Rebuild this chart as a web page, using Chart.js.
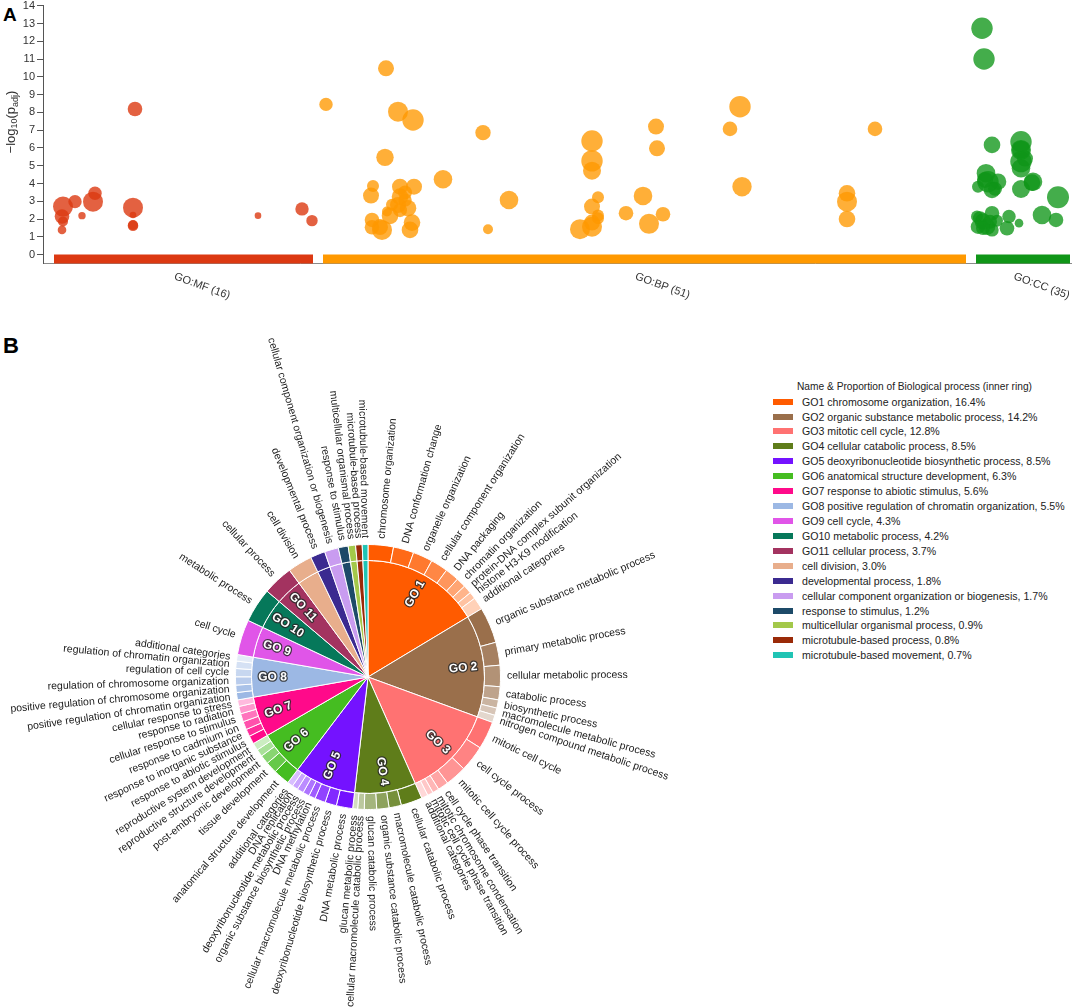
<!DOCTYPE html>
<html>
<head>
<meta charset="utf-8">
<script src="https://cdn.jsdelivr.net/npm/chart.js@4.4.1/dist/chart.umd.min.js"></script>
<style>
  html, body { margin: 0; padding: 0; background: #fff; }
  body { width: 1072px; height: 1007px; position: relative; overflow: hidden;
         font-family: "Liberation Sans", Arial, sans-serif; color: #222; }
  .tag { position: absolute; font-weight: bold; color: #000; }
  #manhattan { position: absolute; left: 0; top: 0; }
  #sunburst { position: absolute; left: 0; top: 300px; }
  #legend { position: absolute; left: 772px; top: 380px; }
  #legend .title { height: 14.2px; line-height: 14px; font-size: 10.2px; padding-left: 25px; white-space: nowrap; }
  #legend .row { height: 14.93px; display: flex; align-items: center; font-size: 10.6px; white-space: nowrap; }
  #legend .box { width: 20px; height: 6px; margin-left: 1px; margin-right: 9px; }
</style>
</head>
<body>
<div class="tag" style="left:3px; top:5px; font-size:19px; line-height:19px;">A</div>
<div class="tag" style="left:3px; top:335px; font-size:22px; line-height:22px;">B</div>
<canvas id="sunburst" width="760" height="707"></canvas>
<canvas id="manhattan" width="1072" height="310"></canvas>
<div id="legend"></div>

<script>
// ---------- panel A : g:Profiler style manhattan plot ----------
const SOURCE_NAMES = ['GO:MF', 'GO:BP', 'GO:CC'];
const SOURCE_COUNTS = [16, 51, 35];
const SOURCE_FROM = [11, 280, 933];
const SOURCE_TO = [270, 923, 1027];
const Y_TICKS = [0, 1, 2, 3, 4, 5, 6, 7, 8, 9, 10, 11, 12, 13, 14];

// term position on the x axis, -log10(padj), term size (bubble radius)
const MF_X = [20, 32, 19, 20, 19, 39, 52, 50, 92, 90, 90, 90, 90, 215, 259, 269];
const MF_Y = [2.7, 2.98, 2.14, 1.86, 1.39, 2.19, 3.45, 2.98, 8.19, 2.64, 2.23, 1.63, 1.66, 2.19, 2.57, 1.91];
const MF_R = [10, 6.7, 7.3, 5, 4.3, 3.7, 6.7, 10, 7.3, 10, 3.3, 5.3, 5, 3.3, 6.7, 5.7];

const BP_X = [283, 343, 355, 370, 342, 330, 328, 357, 371, 357, 355, 365, 344, 347, 329, 329, 339, 369, 367, 362,
  400, 440, 466, 445, 549, 549, 549, 555, 549, 555, 537, 549, 613, 614, 600, 583, 606, 620, 697, 687,
  699, 832, 804, 804, 804, 357, 349, 549, 362, 337, 555];
const BP_Y = [8.45, 10.48, 8.04, 7.57, 5.47, 3.86, 3.32, 3.82, 3.82, 3.26, 2.79, 2.61, 2.42, 2.18, 1.95, 1.54, 1.39, 1.80, 1.39, 3.07,
  4.24, 6.86, 3.07, 1.43, 6.39, 5.27, 4.72, 3.23, 2.70, 2.05, 1.43, 1.57, 7.2, 5.98, 3.3, 2.33, 1.73, 2.27, 8.32, 7.07,
  3.82, 7.07, 3.45, 2.98, 2.0, 2.5, 2.8, 1.8, 3.5, 1.55, 2.2];
const BP_R = [6.7, 8, 10, 10.7, 8.7, 6, 8, 8, 8, 8.3, 8, 8.3, 5, 8.3, 7.3, 7.3, 10, 8.3, 8.3, 6.7,
  9.3, 7.7, 9.3, 5, 10.7, 10.7, 9, 6, 8, 6, 10, 10, 8, 8, 9.3, 7.3, 10, 7.3, 10.7, 7.3,
  9.7, 7.3, 8.3, 10, 8.3, 7, 6, 8, 7, 8, 6];

const CC_X = [939, 941, 949, 978, 978, 978, 978, 943, 945, 955, 935, 949, 990, 989, 978, 1015, 934, 949, 940, 935,
  949, 966, 964, 976, 999, 1013, 944, 942, 952, 937, 947, 978, 982, 940, 954];
const CC_Y = [12.73, 11.0, 6.17, 6.35, 5.89, 5.23, 4.86, 4.58, 4.1, 4.1, 3.82, 3.64, 4.1, 4.05, 3.69, 3.23, 2.14, 2.33, 1.86, 1.57,
  1.39, 2.14, 1.48, 1.77, 2.23, 1.95, 1.57, 4.2, 3.7, 2.05, 1.85, 5.9, 5.4, 1.5, 1.9];
const CC_R = [10.7, 10.7, 8.3, 10.7, 10, 10.7, 9.3, 9.3, 10.7, 8.3, 6, 8.3, 9.3, 8.3, 9, 11, 6, 7.3, 8.3, 7.3,
  6.7, 6.7, 7.3, 4.3, 9.3, 7.3, 8.3, 8, 7, 7, 7, 9, 8, 7, 6];

// ---------- panel B : biological process sunburst ----------
const GROUP_NAMES = ['GO1 chromosome organization', 'GO2 organic substance metabolic process', 'GO3 mitotic cell cycle',
  'GO4 cellular catabolic process', 'GO5 deoxyribonucleotide biosynthetic process', 'GO6 anatomical structure development',
  'GO7 response to abiotic stimulus', 'GO8 positive regulation of chromatin organization', 'GO9 cell cycle',
  'GO10 metabolic process', 'GO11 cellular process', 'cell division', 'developmental process',
  'cellular component organization or biogenesis', 'response to stimulus', 'multicellular organismal process',
  'microtubule-based process', 'microtubule-based movement'];
const GROUP_SHARE = [16.4, 14.2, 12.8, 8.5, 8.5, 6.3, 5.6, 5.5, 4.3, 4.2, 3.7, 3.0, 1.8, 1.7, 1.2, 0.9, 0.8, 0.7];
const GROUP_TAGS = ['GO 1', 'GO 2', 'GO 3', 'GO 4', 'GO 5', 'GO 6', 'GO 7', 'GO 8', 'GO 9', 'GO 10', 'GO 11',
  '', '', '', '', '', '', ''];

const TERM_NAMES = [
  'chromosome organization', 'DNA conformation change', 'organelle organization', 'cellular component organization',
  'DNA packaging', 'chromatin organization', 'protein-DNA complex subunit organization', 'histone H3-K9 modification', 'additional categories',
  'organic substance metabolic process', 'primary metabolic process', 'cellular metabolic process', 'catabolic process',
  'biosynthetic process', 'macromolecule metabolic process', 'nitrogen compound metabolic process',
  'mitotic cell cycle', 'cell cycle process', 'mitotic cell cycle process', 'cell cycle phase transition',
  'mitotic chromosome condensation', 'mitotic cell cycle phase transition', 'additional categories',
  'cellular catabolic process', 'macromolecule catabolic process', 'organic substance catabolic process',
  'glucan catabolic process', 'cellular macromolecule catabolic process', 'glucan metabolic process',
  'DNA metabolic process', 'deoxyribonucleotide biosynthetic process', 'cellular macromolecule metabolic process',
  'DNA methylation', 'organic substance biosynthetic process', 'deoxyribonucleotide metabolic process', 'DNA replication', 'additional categories',
  'anatomical structure development', 'tissue development', 'post-embryonic development',
  'reproductive structure development', 'reproductive system development',
  'response to abiotic stimulus', 'response to inorganic substance', 'response to cadmium ion',
  'cellular response to stimulus', 'response to radiation', 'cellular response to stress',
  'positive regulation of chromatin organization', 'positive regulation of chromosome organization',
  'regulation of chromosome organization', 'regulation of cell cycle', 'regulation of chromatin organization', 'additional categories',
  'cell cycle', 'metabolic process', 'cellular process', 'cell division', 'developmental process',
  'cellular component organization or biogenesis', 'response to stimulus', 'multicellular organismal process',
  'microtubule-based process', 'microtubule-based movement'];
const TERM_SHARE = [
  3.1, 2.5, 2.4, 2.1, 1.7, 1.2, 1.05, 0.85, 1.5,
  4.4, 2.8, 2.6, 1.6, 1.0, 0.9, 0.9,
  3.4, 3.2, 2.6, 1.3, 0.8, 0.7, 0.8,
  2.6, 1.5, 1.5, 1.5, 0.8, 0.6,
  2.0, 1.4, 1.3, 0.8, 0.8, 0.8, 0.7, 0.7,
  2.0, 1.4, 1.1, 0.9, 0.9,
  1.0, 0.9, 1.0, 1.0, 0.9, 0.8,
  0.9, 0.9, 1.0, 1.0, 0.9, 0.8,
  4.3, 4.2, 3.7, 3.0, 1.8, 1.7, 1.2, 0.9, 0.8, 0.7];
const TERM_GROUP = [
  0, 0, 0, 0, 0, 0, 0, 0, 0,
  1, 1, 1, 1, 1, 1, 1,
  2, 2, 2, 2, 2, 2, 2,
  3, 3, 3, 3, 3, 3,
  4, 4, 4, 4, 4, 4, 4, 4,
  5, 5, 5, 5, 5,
  6, 6, 6, 6, 6, 6,
  7, 7, 7, 7, 7, 7,
  8, 9, 10, 11, 12, 13, 14, 15, 16, 17];

// ---------- styles ----------
const FONT = '"Liberation Sans", Arial, sans-serif';
const SOURCE_COLORS = ['#dc3912', '#ff9900', '#109618'];
const BUBBLE_COLORS = ['rgba(220,57,18,0.8)', 'rgba(255,153,0,0.78)', 'rgba(16,150,24,0.78)'];
const GROUP_COLORS = ['#ff5b00', '#9a6f4b', '#ff7272', '#5f7d1a', '#7412ff', '#45bd21', '#ff0a8a', '#9cb8e4',
  '#e055e8', '#06785a', '#a33360', '#e8ae8c', '#3b2a90', '#c99cf0', '#1d4a68', '#a3c84a', '#9a2a08', '#20c4b4'];

function toPoints(xs, ys, rs) {
  return xs.map((x, i) => ({ x, y: ys[i], r: rs[i] }));
}

function tint(hex, t) {
  const n = parseInt(hex.slice(1), 16);
  const mix = c => Math.round(c + (255 - c) * t);
  return `rgb(${mix((n >> 16) & 255)},${mix((n >> 8) & 255)},${mix(n & 255)})`;
}

// ---------- chart A ----------
const sourceBar = (i) => ({
  type: 'line',
  data: [{ x: SOURCE_FROM[i], y: -0.25 }, { x: SOURCE_TO[i], y: -0.25 }],
  borderColor: SOURCE_COLORS[i],
  borderWidth: 9,
  borderCapStyle: 'butt',
  pointRadius: 0,
  clip: false,
  order: 5
});

const sourceLabels = {
  id: 'sourceLabels',
  afterDraw(chart) {
    const { ctx, chartArea, scales: { x } } = chart;
    ctx.save();
    ctx.font = '11px ' + FONT;
    ctx.fillStyle = '#333';
    ctx.textBaseline = 'alphabetic';
    SOURCE_NAMES.forEach((name, i) => {
      const cx = x.getPixelForValue((SOURCE_FROM[i] + SOURCE_TO[i]) / 2);
      ctx.save();
      ctx.translate(cx - 10, chartArea.bottom + 15.5);
      ctx.rotate(20 * Math.PI / 180);
      ctx.fillText(`${name} (${SOURCE_COUNTS[i]})`, 0, 0);
      ctx.restore();
    });

    // y axis title  -log10(padj)
    const parts = [['\u2212log', 13, 0], ['10', 9, 2], ['(p', 13, 0], ['adj', 9, 3], [')', 13, 0]];
    let total = 0;
    parts.forEach(p => { ctx.font = p[1] + 'px ' + FONT; total += ctx.measureText(p[0]).width; });
    ctx.translate(15, 122);
    ctx.rotate(-Math.PI / 2);
    let px = -total / 2;
    parts.forEach(p => {
      ctx.font = p[1] + 'px ' + FONT;
      ctx.fillText(p[0], px, p[2]);
      px += ctx.measureText(p[0]).width;
    });
    ctx.restore();
  }
};

new Chart(document.getElementById('manhattan'), {
  type: 'bubble',
  data: {
    datasets: [
      { label: 'GO:MF', data: toPoints(MF_X, MF_Y, MF_R), backgroundColor: BUBBLE_COLORS[0], borderWidth: 0, clip: false, order: 1 },
      { label: 'GO:BP', data: toPoints(BP_X, BP_Y, BP_R), backgroundColor: BUBBLE_COLORS[1], borderWidth: 0, clip: false, order: 1 },
      { label: 'GO:CC', data: toPoints(CC_X, CC_Y, CC_R), backgroundColor: BUBBLE_COLORS[2], borderWidth: 0, clip: false, order: 1 },
      sourceBar(0), sourceBar(1), sourceBar(2)
    ]
  },
  options: {
    responsive: false,
    animation: false,
    layout: { autoPadding: false, padding: { top: 5.7, right: 0, bottom: 46.5, left: 0 } },
    plugins: { legend: { display: false }, tooltip: { enabled: false } },
    scales: {
      x: {
        type: 'linear', min: 0, max: 1029,
        ticks: { display: false },
        grid: { display: false },
        border: { color: '#8a8a8a', width: 1 },
        afterFit: s => { s.height = 0; }
      },
      y: {
        min: -0.5, max: 14,
        afterBuildTicks: s => { s.ticks = Y_TICKS.map(v => ({ value: v })); },
        afterFit: s => { s.width = 43; s.paddingTop = 0; s.paddingBottom = 0; },
        ticks: { font: { family: FONT, size: 11 }, color: '#333', padding: 2 },
        grid: { drawOnChartArea: false, tickLength: 6, color: '#555' },
        border: { color: '#555', width: 1 }
      }
    }
  },
  plugins: [sourceLabels]
});

// ---------- chart B ----------
const groupCount = {};
TERM_GROUP.forEach(g => { groupCount[g] = (groupCount[g] || 0) + 1; });
const seen = {};
const TERM_COLORS = TERM_GROUP.map(g => {
  const k = seen[g] = (seen[g] === undefined ? 0 : seen[g] + 1);
  const n = groupCount[g];
  return n > 1 ? tint(GROUP_COLORS[g], 0.72 * k / (n - 1)) : GROUP_COLORS[g];
});

const ringLabels = {
  id: 'ringLabels',
  afterDatasetsDraw(chart) {
    const ctx = chart.ctx;
    ctx.save();
    ctx.font = '10.5px ' + FONT;
    ctx.fillStyle = '#1a1a1a';
    ctx.textBaseline = 'middle';
    chart.getDatasetMeta(0).data.forEach((arc, i) => {
      const p = arc.getProps(['x', 'y', 'startAngle', 'endAngle', 'outerRadius']);
      const a = (p.startAngle + p.endAngle) / 2;
      const r = p.outerRadius + 6.5;
      ctx.save();
      ctx.translate(p.x, p.y);
      if (Math.cos(a) >= 0) {
        ctx.rotate(a); ctx.textAlign = 'left'; ctx.fillText(TERM_NAMES[i], r, 0);
      } else {
        ctx.rotate(a + Math.PI); ctx.textAlign = 'right'; ctx.fillText(TERM_NAMES[i], -r, 0);
      }
      ctx.restore();
    });

    ctx.font = 'bold 12px ' + FONT;
    ctx.textAlign = 'center';
    ctx.lineJoin = 'round';
    chart.getDatasetMeta(1).data.forEach((arc, i) => {
      if (!GROUP_TAGS[i]) return;
      const p = arc.getProps(['x', 'y', 'startAngle', 'endAngle', 'outerRadius']);
      const a = (p.startAngle + p.endAngle) / 2;
      const r = p.outerRadius * 0.82;
      ctx.save();
      ctx.translate(p.x, p.y);
      ctx.rotate(Math.cos(a) >= 0 ? a : a + Math.PI);
      const tx = Math.cos(a) >= 0 ? r : -r;
      ctx.strokeStyle = 'rgba(40,40,40,0.85)';
      ctx.lineWidth = 2.5;
      ctx.strokeText(GROUP_TAGS[i], tx, 0);
      ctx.fillStyle = '#fff';
      ctx.fillText(GROUP_TAGS[i], tx, 0);
      ctx.restore();
    });
    ctx.restore();
  }
};

new Chart(document.getElementById('sunburst'), {
  type: 'doughnut',
  data: {
    labels: TERM_NAMES,
    datasets: [
      { data: TERM_SHARE, backgroundColor: TERM_COLORS, borderColor: '#fff', borderWidth: 1, weight: 16 },
      { data: GROUP_SHARE, backgroundColor: GROUP_COLORS, borderColor: '#fff', borderWidth: 1, weight: 116.5 }
    ]
  },
  options: {
    responsive: false,
    animation: false,
    cutout: 0,
    layout: { padding: { left: 235, right: 259, top: 244, bottom: 197 } },
    plugins: { legend: { display: false }, tooltip: { enabled: false } }
  },
  plugins: [ringLabels]
});

// ---------- legend (inner ring) ----------
const legend = document.getElementById('legend');
const title = document.createElement('div');
title.className = 'title';
title.textContent = 'Name & Proportion of Biological process (inner ring)';
legend.appendChild(title);
GROUP_NAMES.forEach((name, i) => {
  const row = document.createElement('div');
  row.className = 'row';
  const box = document.createElement('span');
  box.className = 'box';
  box.style.background = GROUP_COLORS[i];
  const txt = document.createElement('span');
  txt.textContent = `${name}, ${GROUP_SHARE[i].toFixed(1)}%`;
  row.appendChild(box);
  row.appendChild(txt);
  legend.appendChild(row);
});
</script>
</body>
</html>
